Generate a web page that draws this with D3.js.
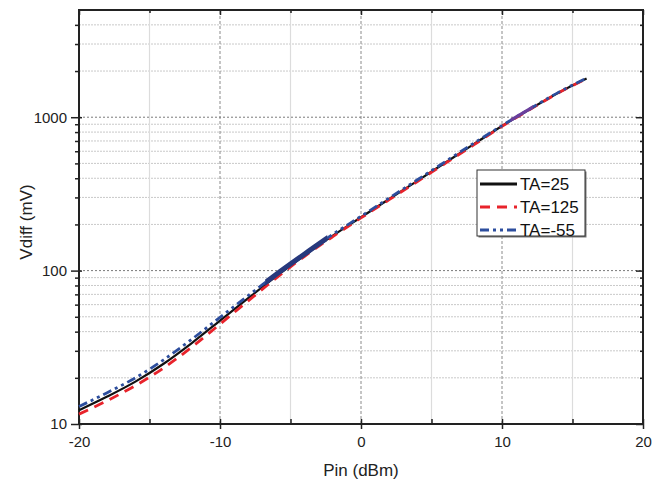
<!DOCTYPE html>
<html>
<head>
<meta charset="utf-8">
<script src="https://cdn.jsdelivr.net/npm/d3@7"></script>
<style>
  html, body { margin: 0; padding: 0; background: #fff; }
  svg { display: block; font-family: "Liberation Sans", Arial, sans-serif; }
</style>
</head>
<body>
<svg id="chart" width="663" height="484"></svg>
<script>
// Input power sweep (dBm)
const pin = [-20, -18, -16, -14, -12, -10, -8, -6, -4, -2, 0, 2, 4, 6, 8, 10, 12, 14, 16];
// Differential output voltage (mV) at each ambient temperature
const vTA25  = [12.3, 15.1, 18.9, 24.7, 33.7, 47.2, 66.1, 92.0, 125.9, 169, 222.8, 293, 385, 507, 667, 877, 1130, 1445, 1791];
const vTA125 = [11.6, 14.2, 17.8, 23.2, 31.7, 44.8, 63.5, 89.7, 124, 166.5, 220.5, 290, 381, 502, 660, 872, 1125, 1440, 1785];
const vTAm55 = [13.0, 16.0, 20.0, 26.2, 35.7, 49.6, 68.7, 94.8, 128.4, 172.4, 226, 297.4, 391, 515, 677, 882, 1136, 1452, 1800];

const seriesNames = ["TA=25", "TA=125", "TA=-55"];
const xMajorTicks = [-20, -10, 0, 10, 20];
const xMinorTicks = [-15, -5, 5, 15];
const yMajorTicks = [10, 100, 1000];
const yMinorTicks = [20, 30, 40, 50, 60, 70, 80, 90, 200, 300, 400, 500, 600, 700, 800, 900, 2000, 3000, 4000];

const W = 663, H = 484;
const m = { left: 79, right: 20, top: 10, bottom: 60 };
const svg = d3.select("#chart");

const x = d3.scaleLinear().domain([-20, 20]).range([m.left, W - m.right]);
const y = d3.scaleLog().domain([10, 5000]).range([H - m.bottom, m.top]);

const x0 = m.left, x1 = W - m.right, y0 = H - m.bottom, y1 = m.top;

// ---- grid ----
const grid = svg.append("g");
grid.selectAll(".hmin").data(yMinorTicks).join("line")
  .attr("x1", x0).attr("x2", x1)
  .attr("y1", d => y(d)).attr("y2", d => y(d))
  .attr("stroke", "#c9c9c9").attr("stroke-width", 1).attr("stroke-dasharray", "2,1");
grid.selectAll(".vmin").data(xMinorTicks).join("line")
  .attr("x1", d => x(d)).attr("x2", d => x(d))
  .attr("y1", y0).attr("y2", y1)
  .attr("stroke", "#dcdcdc").attr("stroke-width", 1.2);
grid.selectAll(".vmaj").data([-10, 0, 10]).join("line")
  .attr("x1", d => x(d)).attr("x2", d => x(d))
  .attr("y1", y0).attr("y2", y1)
  .attr("stroke", "#8a8a8a").attr("stroke-width", 1).attr("stroke-dasharray", "3,2");
grid.selectAll(".hmaj").data([100, 1000]).join("line")
  .attr("x1", x0).attr("x2", x1)
  .attr("y1", d => y(d)).attr("y2", d => y(d))
  .attr("stroke", "#7a7a7a").attr("stroke-width", 1).attr("stroke-dasharray", "2,2");

// ---- axes ----
const axisColor = "#222";
const fmt = d => String(d);

// bottom: major ticks crossing the axis line, minor ticks inward
const xb = d3.axisBottom(x).tickValues(xMajorTicks).tickSize(5).tickPadding(7).tickFormat(fmt);
const gxb = svg.append("g").attr("transform", `translate(0,${y0})`).call(xb);
gxb.selectAll(".tick line").clone().attr("y2", -5);
gxb.selectAll(".tick text").attr("font-size", 15).attr("fill", "#222");
svg.append("g").attr("transform", `translate(0,${y0})`)
  .call(d3.axisTop(x).tickValues(xMinorTicks).tickSize(5).tickFormat(""))
  .call(g => g.select(".domain").remove());

// top: ticks pointing inward
svg.append("g").attr("transform", `translate(0,${y1})`)
  .call(d3.axisBottom(x).tickValues(xMajorTicks).tickSize(5).tickFormat(""))
  .call(g => g.select(".domain").remove());
svg.append("g").attr("transform", `translate(0,${y1})`)
  .call(d3.axisBottom(x).tickValues(xMinorTicks).tickSize(3).tickFormat(""))
  .call(g => g.select(".domain").remove());

// left: major ticks crossing, minor ticks outward
const yl = d3.axisLeft(y).tickValues(yMajorTicks).tickSize(8).tickPadding(4).tickFormat(fmt);
const gyl = svg.append("g").attr("transform", `translate(${x0},0)`).call(yl);
gyl.selectAll(".tick line").clone().attr("x2", 3);
gyl.selectAll(".tick text").attr("font-size", 15).attr("fill", "#222");
svg.append("g").attr("transform", `translate(${x0},0)`)
  .call(d3.axisLeft(y).tickValues(yMinorTicks).tickSize(4).tickFormat(""))
  .call(g => g.select(".domain").remove());

// right: ticks pointing inward
svg.append("g").attr("transform", `translate(${x1},0)`)
  .call(d3.axisLeft(y).tickValues(yMajorTicks).tickSize(7).tickFormat(""))
  .call(g => g.select(".domain").remove());
svg.append("g").attr("transform", `translate(${x1},0)`)
  .call(d3.axisLeft(y).tickValues(yMinorTicks).tickSize(3).tickFormat(""))
  .call(g => g.select(".domain").remove());

svg.selectAll(".tick line").attr("stroke", axisColor).attr("stroke-width", 1.5);
svg.selectAll(".domain").remove();

// frame
svg.append("rect").attr("x", x0).attr("y", y1).attr("width", x1 - x0).attr("height", y0 - y1)
  .attr("fill", "none").attr("stroke", axisColor).attr("stroke-width", 2);

// ---- axis titles ----
svg.append("text").attr("x", (x0 + x1) / 2).attr("y", 476).attr("text-anchor", "middle")
  .attr("font-size", 17).attr("fill", "#222").text("Pin (dBm)");
svg.append("text").attr("transform", "translate(32,222) rotate(-90)").attr("text-anchor", "middle")
  .attr("font-size", 17).attr("fill", "#222").text("Vdiff (mV)");

// ---- curves ----
const rows = vals => pin.map((p, i) => ({ p, v: vals[i] }));
const line = d3.line().x(d => x(d.p)).y(d => y(d.v)).curve(d3.curveMonotoneX);

const defs = svg.append("defs");
defs.append("clipPath").attr("id", "clipMid").append("rect")
  .attr("x", x(-6.8)).attr("y", y1).attr("width", x(-2.4) - x(-6.8)).attr("height", y0 - y1);
defs.append("clipPath").attr("id", "clipHi").append("rect")
  .attr("x", x(10.6)).attr("y", y1).attr("width", x(12.2) - x(10.6)).attr("height", y0 - y1);

const series = [
  { name: seriesNames[0], data: rows(vTA25),  color: "#111111", width: 2.2, dash: null },
  { name: seriesNames[1], data: rows(vTA125), color: "#e8232b", width: 2.8, dash: "10,7" },
  { name: seriesNames[2], data: rows(vTAm55), color: "#2d4e9e", width: 2.8, dash: "9,4,3,4,3,4" }
];

const plot = svg.append("g");
series.forEach(s => {
  plot.append("path").datum(s.data)
    .attr("d", line).attr("fill", "none")
    .attr("stroke", s.color).attr("stroke-width", s.width)
    .attr("stroke-dasharray", s.dash);
});
// overlapping traces in the middle and upper part of the sweep
plot.append("path").datum(series[2].data)
  .attr("d", line).attr("fill", "none").attr("clip-path", "url(#clipMid)")
  .attr("stroke", "#27397d").attr("stroke-width", 5);
plot.append("path").datum(series[2].data)
  .attr("d", line).attr("fill", "none").attr("clip-path", "url(#clipHi)")
  .attr("stroke", "#6a3f9c").attr("stroke-width", 3.2);

// ---- legend ----
const lg = svg.append("g").attr("transform", "translate(477,170)");
lg.append("rect").attr("x", 1.5).attr("y", 1.5).attr("width", 108).attr("height", 66).attr("fill", "#777");
lg.append("rect").attr("width", 108).attr("height", 66).attr("fill", "#fff")
  .attr("stroke", "#333").attr("stroke-width", 1);
series.forEach((s, i) => {
  const yy = 14 + i * 23;
  lg.append("line").attr("x1", 3).attr("x2", 40).attr("y1", yy).attr("y2", yy)
    .attr("stroke", s.color).attr("stroke-width", 3).attr("stroke-dasharray", s.dash);
  lg.append("text").attr("x", 43).attr("y", yy + 6).attr("font-size", 17).attr("fill", "#111").text(s.name);
});
</script>
</body>
</html>
